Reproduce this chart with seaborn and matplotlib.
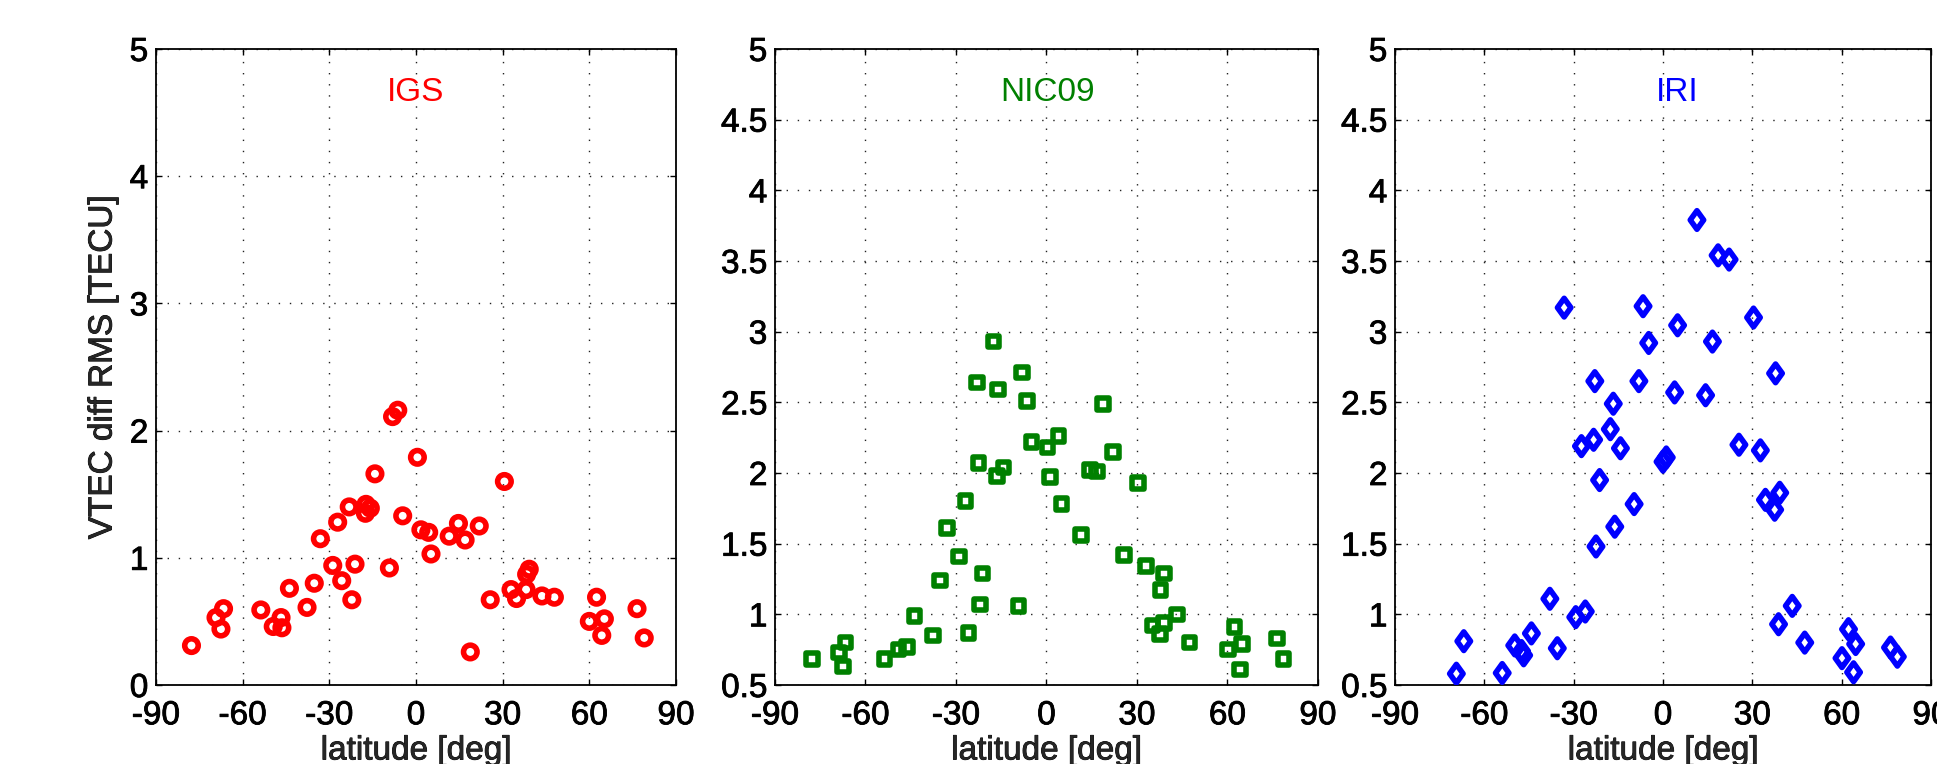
import numpy as np
import pandas as pd
import matplotlib
matplotlib.use("Agg")
import matplotlib.pyplot as plt
import matplotlib.patheffects as pe
from matplotlib.path import Path
import seaborn as sns

# --- VTEC difference RMS per station, by geographic latitude ---
igs_lat = [-77.7, -69.2, -66.6, -67.5, -53.7, -46.7, -49.4, -46.4, -43.8, -37.7,
           -35.2, -33.1, -27.1, -28.8, -25.7, -21.1, -22.2, -23.1, -17.3, -15.8,
           -17.5, -14.2, -8.1, -6.3, -9.2, -4.6, 0.5, 1.7, 4.4, 5.2,
           11.5, 14.7, 17.0, 21.9, 18.8, 25.7, 30.6, 32.9, 34.8, 39.2,
           38.3, 38.1, 43.6, 47.9, 62.5, 60.0, 65.2, 64.3, 76.5, 79.0]
igs_rms = [0.31, 0.53, 0.60, 0.44, 0.59, 0.53, 0.46, 0.45, 0.76, 0.61,
           0.80, 1.15, 1.28, 0.94, 0.82, 0.95, 0.67, 1.40, 1.42, 1.39,
           1.35, 1.66, 2.11, 2.16, 0.92, 1.33, 1.79, 1.22, 1.20, 1.03,
           1.17, 1.27, 1.14, 1.25, 0.26, 0.67, 1.60, 0.75, 0.68, 0.91,
           0.87, 0.75, 0.70, 0.69, 0.69, 0.50, 0.52, 0.39, 0.60, 0.37]

nic_lat = [-77.8, -68.8, -66.6, -67.5, -53.7, -49.1, -46.2, -43.8, -37.7, -35.2,
           -33.0, -28.9, -26.9, -25.9, -23.1, -22.5, -21.2, -22.1, -17.5, -16.0,
           -16.4, -14.3, -8.2, -6.5, -9.3, -4.9, 0.3, 4.0, 1.2, 5.0,
           11.4, 14.4, 16.7, 18.8, 22.1, 25.7, 30.4, 32.9, 38.9, 37.8,
           35.1, 37.6, 38.9, 43.3, 47.4, 62.3, 60.1, 64.9, 64.1, 76.4, 78.6]
nic_rms = [0.685, 0.73, 0.80, 0.63, 0.685, 0.75, 0.77, 0.99, 0.85, 1.24,
           1.61, 1.41, 1.80, 0.87, 2.64, 2.07, 1.29, 1.07, 2.93, 2.59,
           1.98, 2.04, 2.71, 2.51, 1.06, 2.22, 2.18, 2.26, 1.97, 1.78,
           1.56, 2.02, 2.01, 2.49, 2.15, 1.42, 1.93, 1.34, 1.29, 1.17,
           0.92, 0.86, 0.94, 1.00, 0.80, 0.91, 0.75, 0.79, 0.61, 0.83, 0.685]

iri_lat = [11.4, 18.5, 22.2, -33.2, -6.7, 30.4, 4.9, -4.8, 16.6, 37.8,
           -22.9, -8.1, 3.9, 14.3, -16.7, -17.7, -23.3, -27.4, -14.3, 0.0,
           1.1, 25.5, 32.7, -21.3, -9.7, -16.2, -22.5, 34.4, 39.2, 37.5,
           -38.0, -26.1, -29.3, -66.9, -69.4, -54.0, -49.8, -47.5, -46.8, -44.2,
           -35.5, 43.4, 38.8, 47.6, 62.3, 64.7, 60.1, 64.0, 76.4, 78.7]
iri_rms = [3.79, 3.54, 3.51, 3.17, 3.18, 3.10, 3.045, 2.92, 2.93, 2.705,
           2.65, 2.65, 2.57, 2.55, 2.49, 2.31, 2.235, 2.19, 2.175, 2.08,
           2.11, 2.20, 2.16, 1.95, 1.78, 1.62, 1.48, 1.81, 1.86, 1.74,
           1.11, 1.02, 0.98, 0.81, 0.58, 0.585, 0.78, 0.74, 0.71, 0.865,
           0.76, 1.06, 0.93, 0.80, 0.895, 0.79, 0.69, 0.59, 0.765, 0.70]

models = ["IGS", "NIC09", "IRI"]
lat_ticks = [-90, -60, -30, 0, 30, 60, 90]
igs_yticks = [0, 1, 2, 3, 4, 5]
igs_ytick_labels = ["0", "1", "2", "3", "4", "5"]
other_yticks = [0.5, 1, 1.5, 2, 2.5, 3, 3.5, 4, 4.5, 5]
other_ytick_labels = ["0.5", "1", "1.5", "2", "2.5", "3", "3.5", "4", "4.5", "5"]

sns.set_style("white")
plt.rcParams["font.family"] = ["Liberation Sans", "DejaVu Sans"]

FS = 24
# slightly heavier glyphs for axis text
heavy = [pe.withStroke(linewidth=0.6, foreground="black")]

# tall open diamond, like MATLAB's 'd'
diamond = Path([(0, 1), (0.72, 0), (0, -1), (-0.72, 0), (0, 1)],
               [Path.MOVETO, Path.LINETO, Path.LINETO, Path.LINETO, Path.CLOSEPOLY])

panels = [
    dict(name=models[0], lat=igs_lat, rms=igs_rms, color="#ff0000", marker="o", s=95,
         ylim=(0, 5), yticks=igs_yticks, ylabels=igs_ytick_labels,
         rect=[0.0805, 0.1034, 0.2685, 0.8325], label_x=0.0),
    dict(name=models[1], lat=nic_lat, rms=nic_rms, color="#008000", marker="s", s=70,
         ylim=(0.5, 5), yticks=other_yticks, ylabels=other_ytick_labels,
         rect=[0.4001, 0.1034, 0.2803, 0.8325], label_x=0.5),
    dict(name=models[2], lat=iri_lat, rms=iri_rms, color="#0000ff", marker=diamond, s=180,
         ylim=(0.5, 5), yticks=other_yticks, ylabels=other_ytick_labels,
         rect=[0.7202, 0.1034, 0.2767, 0.8325], label_x=4.7),
]

fig = plt.figure(figsize=(19.37, 7.64), dpi=100)
fig.patch.set_facecolor("white")

for i, p in enumerate(panels):
    ax = fig.add_axes(p["rect"])
    df = pd.DataFrame({"latitude": p["lat"], "rms": p["rms"]})
    sns.scatterplot(data=df, x="latitude", y="rms", ax=ax, marker=p["marker"], s=p["s"],
                    color=p["color"], facecolor="none", edgecolor=p["color"],
                    linewidth=4.0, zorder=3, legend=False)
    ax.set_xlim(-90, 90)
    ax.set_ylim(*p["ylim"])
    ax.set_xticks(lat_ticks)
    ax.set_xticklabels([str(t) for t in lat_ticks])
    ax.set_yticks(p["yticks"])
    ax.set_yticklabels(p["ylabels"])
    ax.grid(True, color="#222222", linestyle=(0, (1, 7)), linewidth=1.0)
    ax.set_axisbelow(True)
    for sp in ax.spines.values():
        sp.set_visible(True)
        sp.set_color("black")
        sp.set_linewidth(1.3)
    ax.tick_params(axis="both", which="major", direction="in", length=4, width=1.0,
                   top=True, right=True, bottom=True, left=True,
                   labelsize=FS, colors="black")
    ax.tick_params(axis="x", pad=11)
    ax.tick_params(axis="y", pad=5.5)
    for lab in ax.get_xticklabels() + ax.get_yticklabels():
        lab.set_path_effects(heavy)
    ax.set_xlabel("latitude [deg]", fontsize=FS, labelpad=3, path_effects=heavy)
    if i == 0:
        ax.set_ylabel("VTEC diff RMS [TECU]", fontsize=FS, labelpad=8, path_effects=heavy)
    else:
        ax.set_ylabel("")
    ax.text(p["label_x"], 0.932, p["name"], color=p["color"], fontsize=FS,
            ha="center", va="center", transform=ax.get_xaxis_transform())

fig.savefig("out.png", dpi=100, facecolor="white")
